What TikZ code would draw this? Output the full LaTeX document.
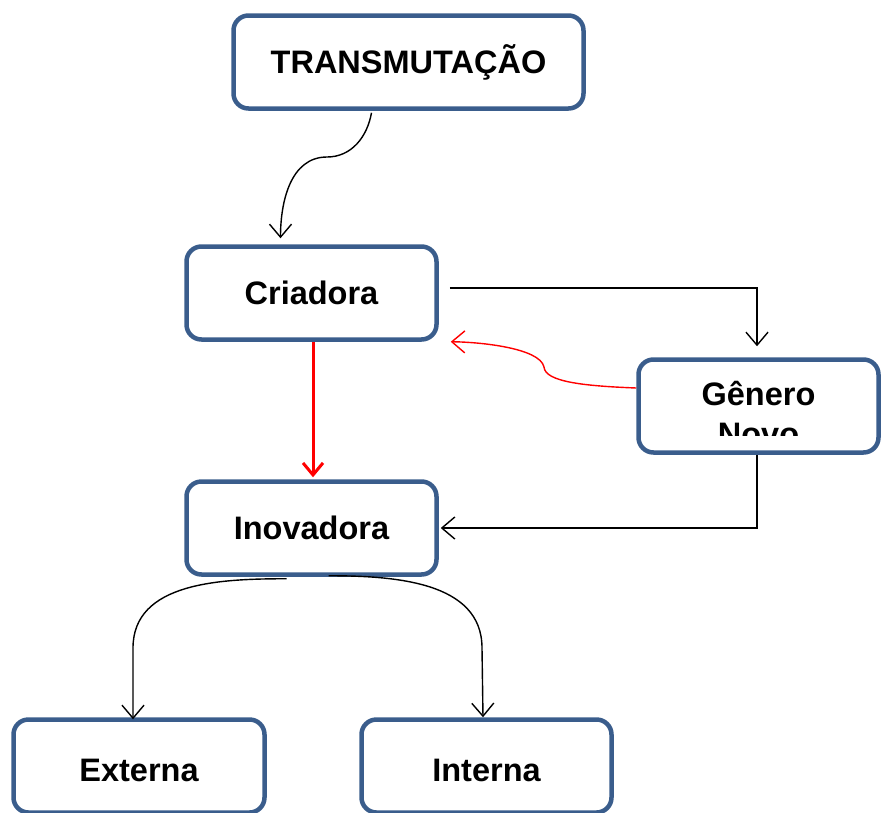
\documentclass[tikz,border=0pt]{standalone}
\usepackage{fontspec}
\setmainfont{Liberation Sans}
\usepackage{tikz}
\usetikzlibrary{arrows.meta}
\definecolor{boxblue}{HTML}{3A5D8C}

\begin{document}
\begin{tikzpicture}[x=1pt, y=-1pt,
    box/.style={draw=boxblue, line width=4.5pt, rounded corners=15pt,
      fill=white, inner sep=0pt, align=center,
      font=\fontsize{32.5}{40}\selectfont\bfseries},
    link/.style={line width=1.4pt,
      -{Straight Barb[length=13pt,width=22pt]}},
    redlink/.style={link, red}]
    \useasboundingbox (0, 0) rectangle (881, 812);

    % boxes
    \node[box, minimum width=350, minimum height=93](trans) at (408.5, 62){TRANSMUTAÇÃO};
    \node[box, minimum width=250, minimum height=93](cri) at (311.5, 293){Criadora};
    \node[box, minimum width=240, minimum height=93](gen) at (758.5, 406){};
    \node[box, minimum width=250, minimum height=93](ino) at (311.5, 528){Inovadora};
    \node[box, minimum width=251, minimum height=93, text height=31pt](ext) at (139, 766){Externa};
    \node[box, minimum width=250, minimum height=93, text height=31pt](int) at (486.5, 766){Interna};

    % text of genero novo, cut off at the bottom
    \begin{scope}
      \clip (641, 360) rectangle (877, 435);
      \node[font=\fontsize{32.5}{40}\selectfont\bfseries, align=center,
        anchor=base](gentxt) at (758.5, 445){Gênero\\Novo};
    \end{scope}

    % transmutacao -> criadora
    \draw [link] ([shift={(-37, 2)}]trans.south)
      to[out=-100, in=0] (327, 157)
      to[out=180, in=90] ([shift={(-31, -6)}]cri.north);

    % criadora -> genero novo
    \draw [link] ([shift={(11, -5)}]cri.east) -| ([shift={(-1.5, -11)}]gen.north);

    % genero novo -> criadora (red)
    \draw [redlink] ([shift={(0, -18)}]gen.west)
      .. controls (585, 386) and (545, 382) .. (544, 367)
      .. controls (540, 348) and (480, 342) .. ([shift={(12, 0)}]cri.south east);

    % criadora -> inovadora (red)
    \draw [red, line width=3pt, -{Straight Barb[length=12pt,width=20pt]}]
      ([xshift=1.5]cri.south) -- ([shift={(1.5, -2)}]ino.north);

    % genero novo -> inovadora
    \draw [link] ([xshift=-1.5]gen.south) |- ([xshift=2]ino.east);

    % inovadora -> externa / interna
    \draw [link] ([shift={(-25, 2)}]ino.south)
      to[out=180, in=90] (133, 648) -- ([shift={(-6, 2)}]ext.north);
    \draw [link] ([shift={(17, -1)}]ino.south)
      to[out=0, in=90] (482, 648) -- ([shift={(-3.5, 0)}]int.north);
  \end{tikzpicture}
\end{document}
